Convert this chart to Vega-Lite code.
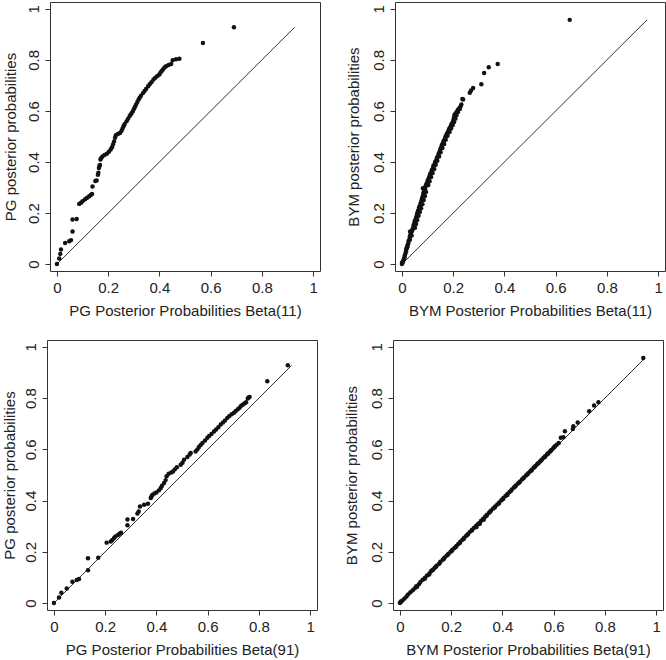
{
  "$schema": "https://vega.github.io/schema/vega-lite/v6.json",
  "background": "white",
  "padding": {"left": 1, "top": 1, "right": 0, "bottom": 0},
  "config": {
    "font": "Liberation Sans",
    "view": {"stroke": "#333", "strokeWidth": 1},
    "axis": {"domain": false, "grid": false, "tickSize": 5, "tickColor": "#333", "tickWidth": 1, "labelFontSize": 15, "labelColor": "#222", "titleFontSize": 15, "titleFontWeight": "normal", "titleColor": "#222", "labelFlush": false, "labelOverlap": false, "tickCount": 6, "format": "~g"},
    "axisX": {"labelPadding": 4, "titlePadding": 8},
    "axisY": {"labelAngle": 270, "labelAlign": "center", "labelBaseline": "alphabetic", "labelPadding": 6.5, "titlePadding": 10}
  },
  "datasets": {
    "pg": [
      {"y": 0.000, "x11": 0.000, "x91": 0.000},
      {"y": 0.022, "x11": 0.009, "x91": 0.020},
      {"y": 0.040, "x11": 0.013, "x91": 0.029},
      {"y": 0.057, "x11": 0.016, "x91": 0.050},
      {"y": 0.083, "x11": 0.032, "x91": 0.072},
      {"y": 0.090, "x11": 0.048, "x91": 0.089},
      {"y": 0.094, "x11": 0.055, "x91": 0.098},
      {"y": 0.128, "x11": 0.061, "x91": 0.133},
      {"y": 0.175, "x11": 0.061, "x91": 0.133},
      {"y": 0.177, "x11": 0.077, "x91": 0.173},
      {"y": 0.236, "x11": 0.087, "x91": 0.206},
      {"y": 0.240, "x11": 0.094, "x91": 0.222},
      {"y": 0.246, "x11": 0.100, "x91": 0.228},
      {"y": 0.254, "x11": 0.110, "x91": 0.235},
      {"y": 0.260, "x11": 0.118, "x91": 0.240},
      {"y": 0.266, "x11": 0.126, "x91": 0.250},
      {"y": 0.271, "x11": 0.132, "x91": 0.256},
      {"y": 0.275, "x11": 0.137, "x91": 0.262},
      {"y": 0.304, "x11": 0.139, "x91": 0.287},
      {"y": 0.326, "x11": 0.150, "x91": 0.287},
      {"y": 0.328, "x11": 0.155, "x91": 0.309},
      {"y": 0.350, "x11": 0.160, "x91": 0.326},
      {"y": 0.358, "x11": 0.162, "x91": 0.331},
      {"y": 0.377, "x11": 0.164, "x91": 0.336},
      {"y": 0.384, "x11": 0.166, "x91": 0.352},
      {"y": 0.388, "x11": 0.168, "x91": 0.367},
      {"y": 0.410, "x11": 0.170, "x91": 0.378},
      {"y": 0.416, "x11": 0.173, "x91": 0.381},
      {"y": 0.422, "x11": 0.178, "x91": 0.384},
      {"y": 0.428, "x11": 0.186, "x91": 0.392},
      {"y": 0.432, "x11": 0.195, "x91": 0.400},
      {"y": 0.440, "x11": 0.203, "x91": 0.410},
      {"y": 0.449, "x11": 0.210, "x91": 0.417},
      {"y": 0.458, "x11": 0.215, "x91": 0.422},
      {"y": 0.469, "x11": 0.219, "x91": 0.430},
      {"y": 0.480, "x11": 0.223, "x91": 0.436},
      {"y": 0.495, "x11": 0.227, "x91": 0.440},
      {"y": 0.505, "x11": 0.230, "x91": 0.448},
      {"y": 0.510, "x11": 0.238, "x91": 0.458},
      {"y": 0.514, "x11": 0.246, "x91": 0.465},
      {"y": 0.522, "x11": 0.252, "x91": 0.472},
      {"y": 0.530, "x11": 0.256, "x91": 0.480},
      {"y": 0.540, "x11": 0.260, "x91": 0.495},
      {"y": 0.548, "x11": 0.264, "x91": 0.502},
      {"y": 0.560, "x11": 0.272, "x91": 0.508},
      {"y": 0.570, "x11": 0.278, "x91": 0.521},
      {"y": 0.580, "x11": 0.284, "x91": 0.530},
      {"y": 0.586, "x11": 0.288, "x91": 0.534},
      {"y": 0.592, "x11": 0.292, "x91": 0.553},
      {"y": 0.600, "x11": 0.297, "x91": 0.560},
      {"y": 0.609, "x11": 0.301, "x91": 0.566},
      {"y": 0.617, "x11": 0.305, "x91": 0.573},
      {"y": 0.625, "x11": 0.309, "x91": 0.580},
      {"y": 0.635, "x11": 0.314, "x91": 0.590},
      {"y": 0.645, "x11": 0.319, "x91": 0.599},
      {"y": 0.652, "x11": 0.323, "x91": 0.606},
      {"y": 0.660, "x11": 0.328, "x91": 0.615},
      {"y": 0.670, "x11": 0.336, "x91": 0.625},
      {"y": 0.678, "x11": 0.342, "x91": 0.633},
      {"y": 0.686, "x11": 0.348, "x91": 0.642},
      {"y": 0.697, "x11": 0.356, "x91": 0.651},
      {"y": 0.705, "x11": 0.362, "x91": 0.660},
      {"y": 0.713, "x11": 0.369, "x91": 0.668},
      {"y": 0.723, "x11": 0.377, "x91": 0.677},
      {"y": 0.730, "x11": 0.384, "x91": 0.685},
      {"y": 0.737, "x11": 0.392, "x91": 0.694},
      {"y": 0.743, "x11": 0.400, "x91": 0.703},
      {"y": 0.750, "x11": 0.404, "x91": 0.710},
      {"y": 0.757, "x11": 0.409, "x91": 0.718},
      {"y": 0.763, "x11": 0.414, "x91": 0.725},
      {"y": 0.770, "x11": 0.420, "x91": 0.731},
      {"y": 0.775, "x11": 0.426, "x91": 0.738},
      {"y": 0.780, "x11": 0.436, "x91": 0.745},
      {"y": 0.784, "x11": 0.446, "x91": 0.750},
      {"y": 0.799, "x11": 0.452, "x91": 0.757},
      {"y": 0.803, "x11": 0.465, "x91": 0.760},
      {"y": 0.805, "x11": 0.478, "x91": 0.764},
      {"y": 0.866, "x11": 0.570, "x91": 0.833},
      {"y": 0.928, "x11": 0.691, "x91": 0.913}
    ],
    "bym": [
      {"y": 0.000, "x11": 0.000, "x91": 0.000},
      {"y": 0.004, "x11": 0.002, "x91": 0.003},
      {"y": 0.010, "x11": 0.004, "x91": 0.010},
      {"y": 0.018, "x11": 0.007, "x91": 0.018},
      {"y": 0.026, "x11": 0.010, "x91": 0.026},
      {"y": 0.034, "x11": 0.011, "x91": 0.032},
      {"y": 0.042, "x11": 0.014, "x91": 0.041},
      {"y": 0.050, "x11": 0.016, "x91": 0.050},
      {"y": 0.058, "x11": 0.017, "x91": 0.058},
      {"y": 0.066, "x11": 0.021, "x91": 0.064},
      {"y": 0.074, "x11": 0.022, "x91": 0.074},
      {"y": 0.082, "x11": 0.025, "x91": 0.080},
      {"y": 0.091, "x11": 0.026, "x91": 0.089},
      {"y": 0.099, "x11": 0.030, "x91": 0.098},
      {"y": 0.108, "x11": 0.031, "x91": 0.106},
      {"y": 0.117, "x11": 0.034, "x91": 0.116},
      {"y": 0.125, "x11": 0.036, "x91": 0.122},
      {"y": 0.131, "x11": 0.040, "x91": 0.130},
      {"y": 0.138, "x11": 0.042, "x91": 0.136},
      {"y": 0.146, "x11": 0.045, "x91": 0.143},
      {"y": 0.153, "x11": 0.046, "x91": 0.152},
      {"y": 0.161, "x11": 0.049, "x91": 0.158},
      {"y": 0.169, "x11": 0.050, "x91": 0.167},
      {"y": 0.177, "x11": 0.054, "x91": 0.174},
      {"y": 0.185, "x11": 0.056, "x91": 0.182},
      {"y": 0.193, "x11": 0.059, "x91": 0.190},
      {"y": 0.200, "x11": 0.060, "x91": 0.198},
      {"y": 0.208, "x11": 0.063, "x91": 0.205},
      {"y": 0.215, "x11": 0.066, "x91": 0.213},
      {"y": 0.223, "x11": 0.067, "x91": 0.221},
      {"y": 0.231, "x11": 0.071, "x91": 0.228},
      {"y": 0.239, "x11": 0.073, "x91": 0.236},
      {"y": 0.247, "x11": 0.076, "x91": 0.244},
      {"y": 0.255, "x11": 0.078, "x91": 0.251},
      {"y": 0.263, "x11": 0.080, "x91": 0.259},
      {"y": 0.271, "x11": 0.083, "x91": 0.267},
      {"y": 0.279, "x11": 0.084, "x91": 0.274},
      {"y": 0.286, "x11": 0.086, "x91": 0.282},
      {"y": 0.293, "x11": 0.090, "x91": 0.289},
      {"y": 0.300, "x11": 0.091, "x91": 0.296},
      {"y": 0.307, "x11": 0.093, "x91": 0.303},
      {"y": 0.313, "x11": 0.095, "x91": 0.310},
      {"y": 0.321, "x11": 0.099, "x91": 0.317},
      {"y": 0.329, "x11": 0.101, "x91": 0.325},
      {"y": 0.337, "x11": 0.105, "x91": 0.333},
      {"y": 0.345, "x11": 0.108, "x91": 0.340},
      {"y": 0.353, "x11": 0.110, "x91": 0.348},
      {"y": 0.361, "x11": 0.115, "x91": 0.356},
      {"y": 0.369, "x11": 0.117, "x91": 0.364},
      {"y": 0.377, "x11": 0.121, "x91": 0.372},
      {"y": 0.385, "x11": 0.123, "x91": 0.380},
      {"y": 0.393, "x11": 0.128, "x91": 0.388},
      {"y": 0.401, "x11": 0.130, "x91": 0.396},
      {"y": 0.410, "x11": 0.135, "x91": 0.404},
      {"y": 0.418, "x11": 0.137, "x91": 0.412},
      {"y": 0.426, "x11": 0.142, "x91": 0.420},
      {"y": 0.434, "x11": 0.144, "x91": 0.428},
      {"y": 0.443, "x11": 0.148, "x91": 0.437},
      {"y": 0.451, "x11": 0.150, "x91": 0.445},
      {"y": 0.459, "x11": 0.154, "x91": 0.453},
      {"y": 0.467, "x11": 0.156, "x91": 0.461},
      {"y": 0.475, "x11": 0.160, "x91": 0.469},
      {"y": 0.483, "x11": 0.163, "x91": 0.477},
      {"y": 0.491, "x11": 0.168, "x91": 0.485},
      {"y": 0.499, "x11": 0.170, "x91": 0.493},
      {"y": 0.508, "x11": 0.174, "x91": 0.502},
      {"y": 0.515, "x11": 0.178, "x91": 0.509},
      {"y": 0.521, "x11": 0.181, "x91": 0.515},
      {"y": 0.528, "x11": 0.184, "x91": 0.522},
      {"y": 0.534, "x11": 0.187, "x91": 0.528},
      {"y": 0.541, "x11": 0.191, "x91": 0.535},
      {"y": 0.547, "x11": 0.193, "x91": 0.541},
      {"y": 0.553, "x11": 0.197, "x91": 0.547},
      {"y": 0.560, "x11": 0.200, "x91": 0.554},
      {"y": 0.567, "x11": 0.202, "x91": 0.561},
      {"y": 0.573, "x11": 0.203, "x91": 0.567},
      {"y": 0.580, "x11": 0.205, "x91": 0.574},
      {"y": 0.586, "x11": 0.206, "x91": 0.580},
      {"y": 0.592, "x11": 0.211, "x91": 0.586},
      {"y": 0.598, "x11": 0.215, "x91": 0.592},
      {"y": 0.605, "x11": 0.219, "x91": 0.599},
      {"y": 0.612, "x11": 0.225, "x91": 0.605},
      {"y": 0.618, "x11": 0.229, "x91": 0.612},
      {"y": 0.625, "x11": 0.232, "x91": 0.620},
      {"y": 0.645, "x11": 0.239, "x91": 0.628},
      {"y": 0.647, "x11": 0.236, "x91": 0.638},
      {"y": 0.671, "x11": 0.265, "x91": 0.644},
      {"y": 0.680, "x11": 0.270, "x91": 0.675},
      {"y": 0.690, "x11": 0.278, "x91": 0.677},
      {"y": 0.705, "x11": 0.310, "x91": 0.694},
      {"y": 0.749, "x11": 0.321, "x91": 0.739},
      {"y": 0.771, "x11": 0.339, "x91": 0.758},
      {"y": 0.784, "x11": 0.374, "x91": 0.775},
      {"y": 0.957, "x11": 0.655, "x91": 0.950},
      {"y": 0.006, "x11": 0.001, "x91": 0.004},
      {"y": 0.064, "x11": 0.019, "x91": 0.067},
      {"y": 0.095, "x11": 0.031, "x91": 0.097},
      {"y": 0.112, "x11": 0.038, "x91": 0.114},
      {"y": 0.128, "x11": 0.032, "x91": 0.127},
      {"y": 0.142, "x11": 0.051, "x91": 0.141},
      {"y": 0.157, "x11": 0.055, "x91": 0.156},
      {"y": 0.173, "x11": 0.060, "x91": 0.172},
      {"y": 0.189, "x11": 0.065, "x91": 0.187},
      {"y": 0.204, "x11": 0.070, "x91": 0.203},
      {"y": 0.219, "x11": 0.075, "x91": 0.218},
      {"y": 0.235, "x11": 0.080, "x91": 0.234},
      {"y": 0.251, "x11": 0.085, "x91": 0.250},
      {"y": 0.267, "x11": 0.090, "x91": 0.264},
      {"y": 0.283, "x11": 0.094, "x91": 0.281},
      {"y": 0.297, "x11": 0.082, "x91": 0.299},
      {"y": 0.310, "x11": 0.103, "x91": 0.312},
      {"y": 0.325, "x11": 0.108, "x91": 0.327},
      {"y": 0.341, "x11": 0.114, "x91": 0.338},
      {"y": 0.357, "x11": 0.120, "x91": 0.352},
      {"y": 0.373, "x11": 0.126, "x91": 0.370},
      {"y": 0.389, "x11": 0.132, "x91": 0.386},
      {"y": 0.405, "x11": 0.138, "x91": 0.402},
      {"y": 0.422, "x11": 0.145, "x91": 0.419},
      {"y": 0.438, "x11": 0.151, "x91": 0.433},
      {"y": 0.455, "x11": 0.158, "x91": 0.450},
      {"y": 0.471, "x11": 0.165, "x91": 0.466},
      {"y": 0.487, "x11": 0.171, "x91": 0.482},
      {"y": 0.503, "x11": 0.178, "x91": 0.498},
      {"y": 0.518, "x11": 0.186, "x91": 0.514},
      {"y": 0.531, "x11": 0.192, "x91": 0.526},
      {"y": 0.544, "x11": 0.198, "x91": 0.538},
      {"y": 0.557, "x11": 0.204, "x91": 0.551},
      {"y": 0.570, "x11": 0.209, "x91": 0.566},
      {"y": 0.583, "x11": 0.213, "x91": 0.578},
      {"y": 0.596, "x11": 0.219, "x91": 0.590},
      {"y": 0.608, "x11": 0.226, "x91": 0.602}
    ]
  },
  "spacing": 20,
  "vconcat": [
    {
      "spacing": -46,
      "hconcat": [
        {
          "width": 1, "height": 1,
          "view": {"stroke": null},
          "data": {"values": []},
          "mark": {"type": "point", "opacity": 0},
          "encoding": {}
        },
        {
          "spacing": 25,
          "hconcat": [
            {
              "width": 270, "height": 269,
              "layer": [
                {
                  "data": {"values": [{"v": 0}, {"v": 0.928}]},
                  "mark": {"type": "line", "color": "#333", "strokeWidth": 1},
                  "encoding": {
                    "x": {"field": "v", "type": "quantitative", "scale": {"domain": [-0.027, 1.027], "nice": false}, "title": "PG Posterior Probabilities Beta(11)"},
                    "y": {"field": "v", "type": "quantitative", "scale": {"domain": [-0.027, 1.027], "nice": false}, "title": "PG posterior probabilities", "axis": {"titlePadding": 8.2}}
                  }
                },
                {
                  "data": {"name": "pg"},
                  "mark": {"type": "circle", "size": 20, "color": "#111", "opacity": 1},
                  "encoding": {
                    "x": {"field": "x11", "type": "quantitative", "title": "PG Posterior Probabilities Beta(11)"},
                    "y": {"field": "y", "type": "quantitative", "title": "PG posterior probabilities"}
                  }
                }
              ]
            },
            {
              "width": 270, "height": 269,
              "layer": [
                {
                  "data": {"values": [{"v": 0}, {"v": 0.957}]},
                  "mark": {"type": "line", "color": "#333", "strokeWidth": 1},
                  "encoding": {
                    "x": {"field": "v", "type": "quantitative", "scale": {"domain": [-0.027, 1.027], "nice": false}, "title": "BYM Posterior Probabilities Beta(11)"},
                    "y": {"field": "v", "type": "quantitative", "scale": {"domain": [-0.027, 1.027], "nice": false}, "title": "BYM posterior probabilities"}
                  }
                },
                {
                  "data": {"name": "bym"},
                  "mark": {"type": "circle", "size": 20, "color": "#111", "opacity": 1},
                  "encoding": {
                    "x": {"field": "x11", "type": "quantitative", "title": "BYM Posterior Probabilities Beta(11)"},
                    "y": {"field": "y", "type": "quantitative", "title": "BYM posterior probabilities"}
                  }
                }
              ]
            }
          ]
        }
      ]
    },
    {
      "spacing": 26,
      "hconcat": [
        {
          "width": 270, "height": 270,
          "layer": [
            {
              "data": {"values": [{"v": 0}, {"v": 0.928}]},
              "mark": {"type": "line", "color": "#333", "strokeWidth": 1},
              "encoding": {
                "x": {"field": "v", "type": "quantitative", "scale": {"domain": [-0.027, 1.027], "nice": false}, "title": "PG Posterior Probabilities Beta(91)"},
                "y": {"field": "v", "type": "quantitative", "scale": {"domain": [-0.027, 1.027], "nice": false}, "title": "PG posterior probabilities", "axis": {"titlePadding": 6.5}}
              }
            },
            {
              "data": {"name": "pg"},
              "mark": {"type": "circle", "size": 20, "color": "#111", "opacity": 1},
              "encoding": {
                "x": {"field": "x91", "type": "quantitative", "title": "PG Posterior Probabilities Beta(91)"},
                "y": {"field": "y", "type": "quantitative", "title": "PG posterior probabilities"}
              }
            }
          ]
        },
        {
          "width": 270, "height": 270,
          "layer": [
            {
              "data": {"values": [{"v": 0}, {"v": 0.957}]},
              "mark": {"type": "line", "color": "#333", "strokeWidth": 1},
              "encoding": {
                "x": {"field": "v", "type": "quantitative", "scale": {"domain": [-0.027, 1.027], "nice": false}, "title": "BYM Posterior Probabilities Beta(91)"},
                "y": {"field": "v", "type": "quantitative", "scale": {"domain": [-0.027, 1.027], "nice": false}, "title": "BYM posterior probabilities"}
              }
            },
            {
              "data": {"name": "bym"},
              "mark": {"type": "circle", "size": 20, "color": "#111", "opacity": 1},
              "encoding": {
                "x": {"field": "x91", "type": "quantitative", "title": "BYM Posterior Probabilities Beta(91)"},
                "y": {"field": "y", "type": "quantitative", "title": "BYM posterior probabilities"}
              }
            }
          ]
        }
      ]
    }
  ]
}
